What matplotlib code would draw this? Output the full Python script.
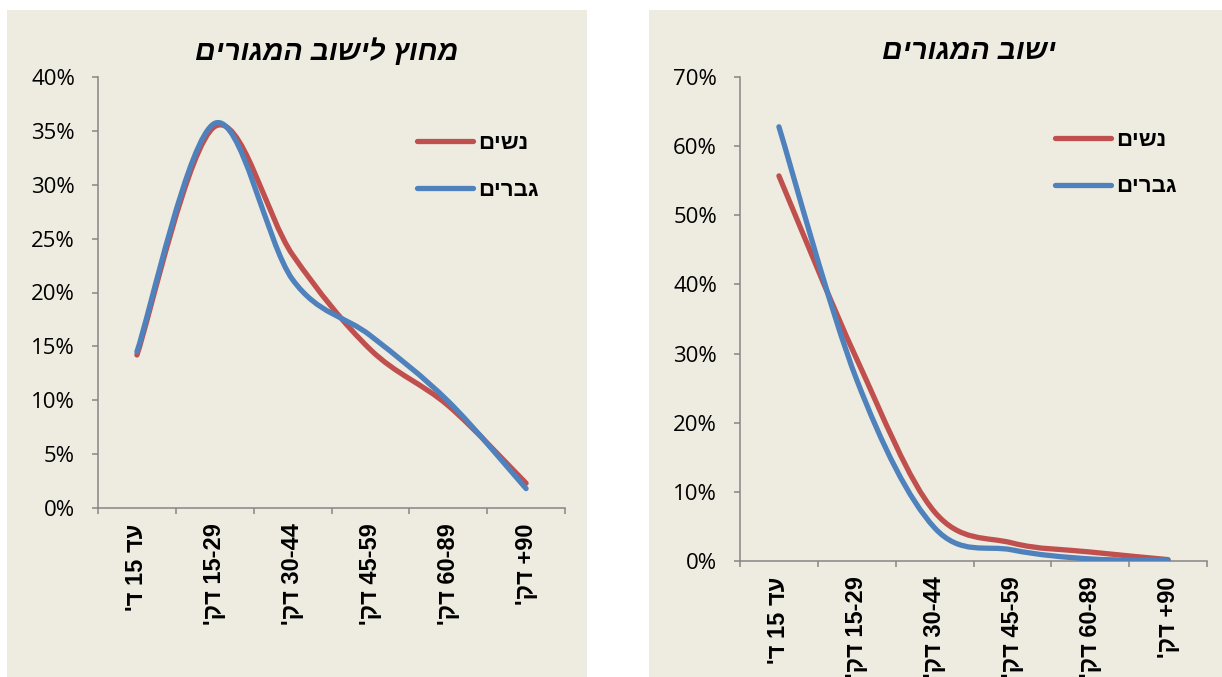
import matplotlib
matplotlib.use("Agg")
import matplotlib.pyplot as plt
import numpy as np
from matplotlib.lines import Line2D
from matplotlib.patches import PathPatch, Rectangle
from matplotlib.path import Path
from matplotlib.ticker import NullFormatter, PercentFormatter

# matplotlib has no bidi support, so the Hebrew strings are stored in visual (left-to-right) order
categories = ["'ד 15 דע", "'קד 15-29", "'קד 30-44", "'קד 45-59", "'קד 60-89", "'קד +90"]
women_label = "םישנ"
men_label = "םירבג"

outside_title = "םירוגמה בושיל ץוחמ"
outside_women = [14.2, 35.4, 23.5, 14.7, 9.5, 2.3]
outside_men = [14.5, 35.7, 21.2, 16.0, 9.9, 1.8]

home_title = "םירוגמה בושי"
home_women = [55.7, 29.2, 7.1, 2.6, 1.3, 0.2]
home_men = [62.8, 26.2, 4.8, 1.6, 0.3, 0.1]

BG = "#EEECE1"
RED = "#C0504D"
BLUE = "#4F81BD"
AXIS = "#868686"
HEB = ["Liberation Sans", "DejaVu Sans"]

W, H = 1222, 677


def smooth_path(values):
    # excel style smoothed line: cubic bezier through every point
    pts = np.column_stack([np.arange(len(values), dtype=float), np.asarray(values, dtype=float)])
    ext = np.vstack([pts[0], pts, pts[-1]])
    verts = [pts[0]]
    codes = [Path.MOVETO]
    for i in range(len(pts) - 1):
        p0, p1, p2, p3 = ext[i], ext[i + 1], ext[i + 2], ext[i + 3]
        verts += [p1 + (p2 - p0) / 6, p2 - (p3 - p1) / 6, p2]
        codes += [Path.CURVE4] * 3
    return Path(verts, codes)


def draw_panel(ax, title, women, men, ymax, ystep, legend_anchor):
    ax.set_facecolor(BG)
    for vals, color in ((women, RED), (men, BLUE)):
        ax.add_patch(PathPatch(smooth_path(vals), fill=False, edgecolor=color, lw=3.8,
                               capstyle="round", joinstyle="round", zorder=3))

    ax.set_xlim(-0.5, len(categories) - 0.5)
    ax.set_ylim(0, ymax)
    ax.set_yticks(np.arange(0, ymax + 0.1, ystep))
    ax.yaxis.set_major_formatter(PercentFormatter(decimals=0))

    ax.set_xticks(np.arange(len(categories) + 1) - 0.5)
    ax.xaxis.set_major_formatter(NullFormatter())
    ax.set_xticks(np.arange(len(categories)), minor=True)
    ax.set_xticklabels(categories, minor=True, rotation=90, fontsize=17,
                       fontweight="bold", family=HEB)
    ax.tick_params(axis="x", which="minor", length=0, pad=11)
    ax.tick_params(axis="both", which="major", length=4.5, width=1.1, color=AXIS, direction="out")
    ax.tick_params(axis="y", labelsize=16, pad=12)
    for lab in ax.get_yticklabels():
        lab.set_family("Open Sans")

    for side in ("top", "right"):
        ax.spines[side].set_visible(False)
    for side in ("left", "bottom"):
        ax.spines[side].set_color(AXIS)
        ax.spines[side].set_linewidth(1.1)

    ax.annotate(title, xy=(0.49, 1), xycoords="axes fraction", xytext=(0, 18),
                textcoords="offset points", ha="center", va="center",
                fontsize=20.5, fontweight="bold", fontstyle="italic", family=HEB)

    handles = [Line2D([], [], color=RED, lw=3.8, solid_capstyle="round", label=women_label),
               Line2D([], [], color=BLUE, lw=3.8, solid_capstyle="round", label=men_label)]
    ax.legend(handles=handles, frameon=False, loc="upper left", bbox_to_anchor=legend_anchor,
              borderpad=0, borderaxespad=0, handlelength=2.5, handletextpad=0.25,
              labelspacing=1.15, prop={"weight": "bold", "size": 16, "family": HEB})


fig = plt.figure(figsize=(W / 100, H / 100), dpi=100)
fig.patch.set_facecolor("white")
fig.add_artist(Rectangle((7 / W, 0), 580 / W, 1 - 10 / H, transform=fig.transFigure,
                         facecolor=BG, edgecolor="none", zorder=0))
fig.add_artist(Rectangle((649 / W, 0), (W - 649) / W, 1 - 10 / H, transform=fig.transFigure,
                         facecolor=BG, edgecolor="none", zorder=0))

ax1 = fig.add_axes([98 / W, 1 - 508 / H, 467 / W, 431 / H])
ax2 = fig.add_axes([740 / W, 1 - 561 / H, 467 / W, 484 / H])

draw_panel(ax1, outside_title, outside_women, outside_men, 40, 5, (0.683, 0.870))
draw_panel(ax2, home_title, home_women, home_men, 70, 10, (0.675, 0.891))

fig.savefig("out.png", dpi=100)
